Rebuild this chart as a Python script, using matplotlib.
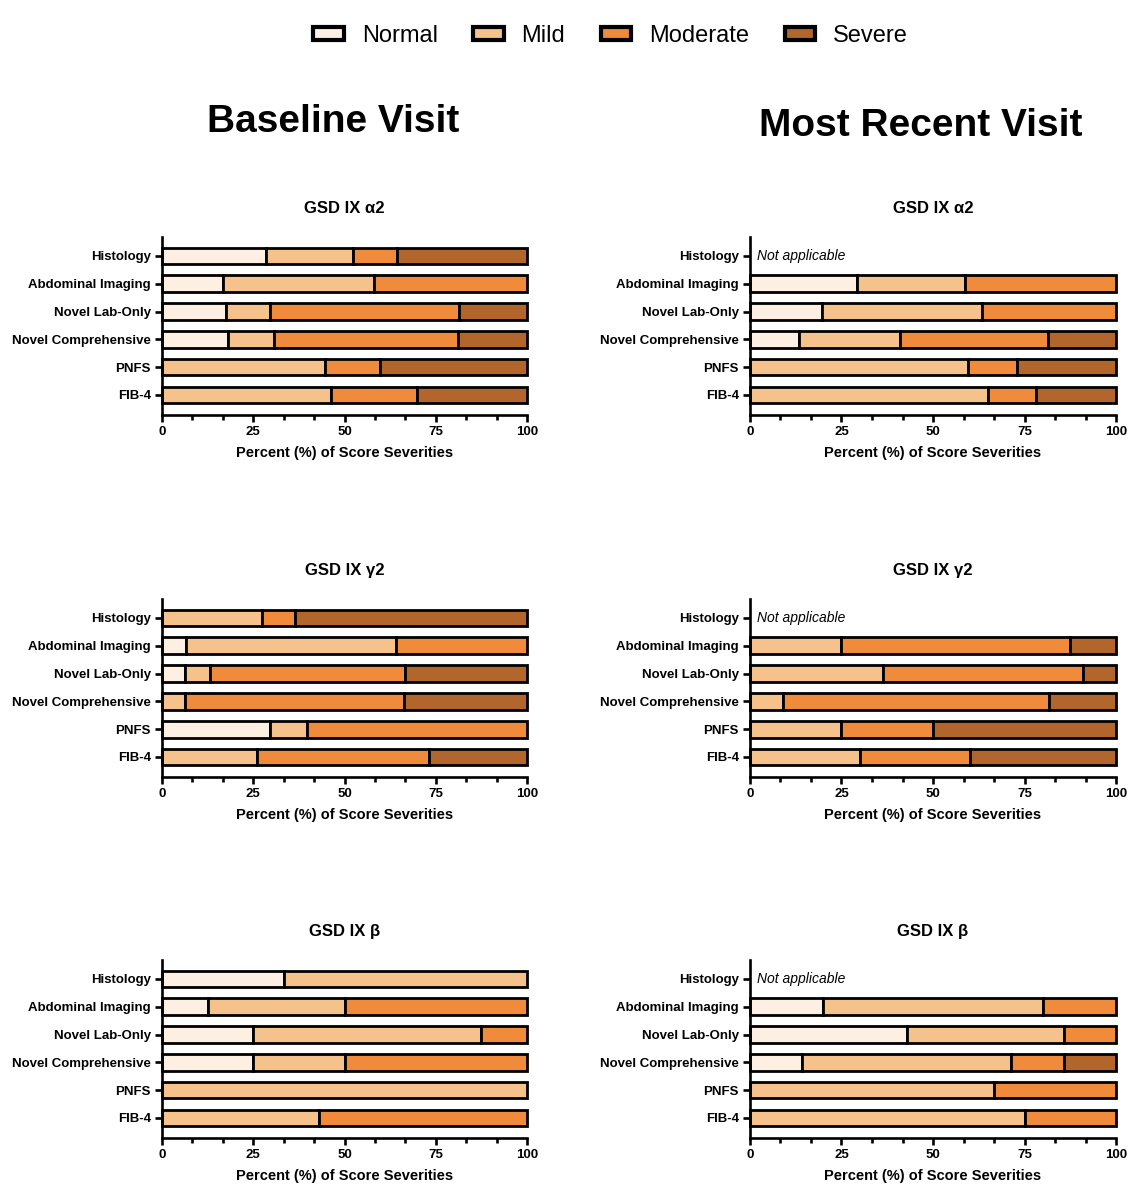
#!/usr/bin/env python3

import numpy as np
import matplotlib
matplotlib.use('Agg')

import matplotlib.pyplot as plt
from matplotlib.patches import Patch
from matplotlib.ticker import MultipleLocator

plt.rcParams['font.family'] = ['Liberation Sans', 'DejaVu Sans']

nan = np.nan

categories = ["Histology", "Abdominal Imaging", "Novel Lab-Only",
              "Novel Comprehensive", "PNFS", "FIB-4"]
severities = ["Normal", "Mild", "Moderate", "Severe"]
colors = ["#FDF0E2", "#F5C28C", "#EF8B3A", "#B3662C"]

# rows: Normal, Mild, Moderate, Severe ; columns follow categories
base_a2 = [[28.6, 16.7, 17.6, 18.2, 0, 0],
           [23.8, 41.4, 12.1, 12.5, 44.6, 46.3],
           [11.9, 41.9, 51.7, 50.4, 15.0, 23.5],
           [35.7, 0, 18.6, 18.9, 40.4, 30.2]]
base_g2 = [[0, 6.5, 6.2, 0, 29.6, 0],
           [27.3, 57.5, 6.9, 6.4, 10.1, 26.1],
           [9.1, 36.0, 53.4, 60.0, 60.3, 47.0],
           [63.6, 0, 33.5, 33.6, 0, 26.9]]
base_b = [[33.3, 12.5, 25.0, 25.0, 0, 0],
          [66.7, 37.5, 62.5, 25.0, 100, 42.9],
          [0, 50.0, 12.5, 50.0, 0, 57.1],
          [0, 0, 0, 0, 0, 0]]
recent_a2 = [[nan, 29.1, 19.8, 13.5, 0, 0],
             [nan, 29.7, 43.5, 27.5, 59.5, 65.0],
             [nan, 41.2, 36.7, 40.5, 13.5, 13.0],
             [nan, 0, 0, 18.5, 27.0, 22.0]]
recent_g2 = [[nan, 0, 0, 0, 0, 0],
             [nan, 25.0, 36.4, 9.1, 25.0, 30.0],
             [nan, 62.5, 54.5, 72.7, 25.0, 30.0],
             [nan, 12.5, 9.1, 18.2, 50.0, 40.0]]
recent_b = [[nan, 20.0, 42.9, 14.3, 0, 0],
            [nan, 60.0, 42.9, 57.1, 66.7, 75.0],
            [nan, 20.0, 14.3, 14.3, 33.3, 25.0],
            [nan, 0, 0, 14.3, 0, 0]]

panels = [("GSD IX \u03b12", base_a2, recent_a2),
          ("GSD IX \u03b32", base_g2, recent_g2),
          ("GSD IX \u03b2", base_b, recent_b)]


def draw_panel(ax, title, data):
    y = np.arange(len(categories))
    vals = np.array(data, dtype=float)
    left = np.zeros(len(categories))
    for i in range(len(severities)):
        v = vals[i]
        for j in range(len(categories)):
            if np.isnan(v[j]) or v[j] <= 0:
                continue
            ax.barh(y[j], v[j], left=left[j], height=0.6, color=colors[i],
                    edgecolor="black", linewidth=2.0, clip_on=False)
        left = left + np.nan_to_num(v)
    for j in range(len(categories)):
        if np.all(np.isnan(vals[:, j])):
            ax.text(2, y[j], "Not applicable", style="italic", fontsize=10,
                    va="center", ha="left")
    ax.set_xlim(0, 100)
    ax.set_ylim(5.72, -0.68)
    ax.set_yticks(y)
    ax.set_yticklabels(categories, fontsize=9.5, fontweight="bold")
    ax.set_xticks([0, 25, 50, 75, 100])
    ax.xaxis.set_minor_locator(MultipleLocator(25 / 3))
    for lab in ax.get_xticklabels():
        lab.set_fontweight("bold")
        lab.set_fontsize(9.5)
    ax.tick_params(axis="both", which="major", width=1.9, length=5, pad=3)
    ax.tick_params(axis="x", which="minor", width=1.9, length=3.5)
    ax.spines["top"].set_visible(False)
    ax.spines["right"].set_visible(False)
    ax.spines["left"].set_linewidth(1.9)
    ax.spines["bottom"].set_linewidth(1.9)
    ax.set_title(title, fontsize=12, fontweight="bold", pad=17)
    ax.set_xlabel("Percent (%) of Score Severities", fontsize=10.5,
                  fontweight="bold", labelpad=6)


def main():
    fig = plt.figure(figsize=(11.37, 12), dpi=100)
    lefts = [0.1425, 0.6596]
    bottoms = [0.6542, 0.3525, 0.0517]
    for r, (title, base, recent) in enumerate(panels):
        ax1 = fig.add_axes([lefts[0], bottoms[r], 0.321, 0.1483])
        draw_panel(ax1, title, base)
        ax2 = fig.add_axes([lefts[1], bottoms[r], 0.322, 0.1483])
        draw_panel(ax2, title, recent)

    fig.text(0.293, 1 - 122 / 1200, "Baseline Visit", ha="center",
             va="center", fontsize=28, fontweight="bold")
    fig.text(0.81, 1 - 126 / 1200, "Most Recent Visit", ha="center",
             va="center", fontsize=28, fontweight="bold")

    handles = [Patch(facecolor=c, edgecolor="black", linewidth=3.0)
               for c in colors]
    fig.legend(handles, severities, loc="center", ncol=4,
               bbox_to_anchor=(0.537, 1 - 36 / 1200), frameon=False,
               fontsize=17, handlelength=1.3, handleheight=0.5,
               columnspacing=1.5, handletextpad=0.75)

    fig.savefig("out.png", dpi=100)


if __name__ == "__main__":
    main()
